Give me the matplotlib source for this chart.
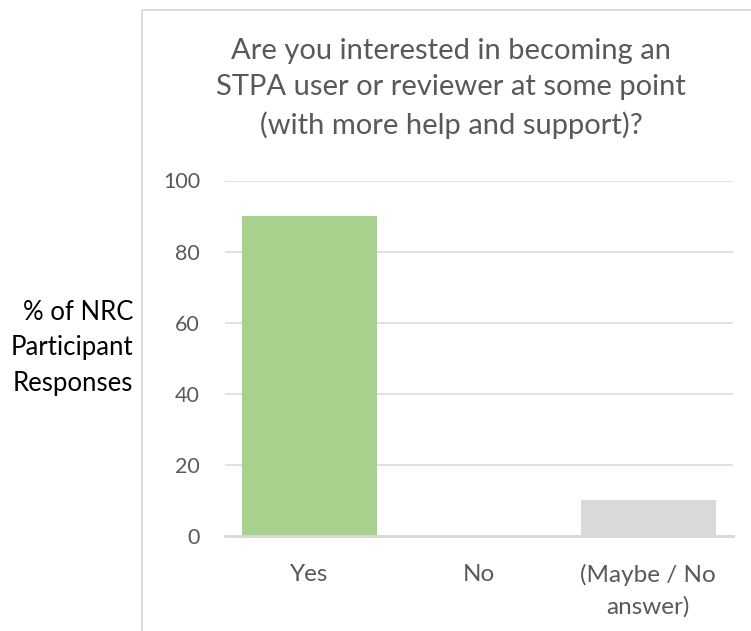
import matplotlib
matplotlib.use("Agg")
import matplotlib.pyplot as plt
from matplotlib.patches import Rectangle

plt.rcParams["font.family"] = ["Lato", "DejaVu Sans"]

# survey answers, % of participants
categories = ["Yes", "No", "(Maybe / No\nanswer)"]
values = [90, 0, 10]
bar_colors = ["#a9d18e", "#a9d18e", "#d9d9d9"]
y_ticks = [0, 20, 40, 60, 80, 100]

title = ("Are you interested in becoming an\n"
         "STPA user or reviewer at some point\n"
         "(with more help and support)?")
ylabel = "% of NRC\nParticipant\nResponses"

text_grey = "#595959"
line_grey = "#d9d9d9"

W, H = 751, 631
fig = plt.figure(figsize=(W / 100, H / 100), dpi=100)

# chart frame (cut off on the right and at the bottom)
fig.add_artist(Rectangle((142 / W, -0.1), 1.0, 1 - 10 / H + 0.1,
                         transform=fig.transFigure, fill=False,
                         edgecolor=line_grey, linewidth=1.3))

ax = fig.add_axes([225 / W, 95 / H, 508 / W, 355.5 / H])
x = range(len(categories))
ax.bar(x, values, width=0.8, color=bar_colors, zorder=2)

ax.set_xlim(-0.5, len(categories) - 0.5)
ax.set_ylim(0, 100)
ax.set_yticks(y_ticks)
ax.set_xticks(list(x))
ax.set_xticklabels(categories, linespacing=1.6, fontsize=17.5)

for s in ["top", "right", "left"]:
    ax.spines[s].set_visible(False)
ax.spines["bottom"].set_color(line_grey)
ax.spines["bottom"].set_linewidth(2.0)
ax.spines["bottom"].set_zorder(3)

ax.yaxis.grid(True, color=line_grey, linewidth=1.1, zorder=0)
ax.tick_params(axis="both", length=0, labelcolor=text_grey)
ax.tick_params(axis="y", pad=18, labelsize=15.5)
ax.tick_params(axis="x", pad=20)

# baseline of a multi-line text is the baseline of its last line
fig.text(451 / W, 1 - 134 / H, title, ha="center", va="baseline",
         fontsize=21, color=text_grey, linespacing=1.5)
fig.text(133 / W, 1 - 348 / H, ylabel, ha="right", va="center",
         fontsize=18.5, color="black", linespacing=1.5)

fig.savefig("out.png", dpi=100)
